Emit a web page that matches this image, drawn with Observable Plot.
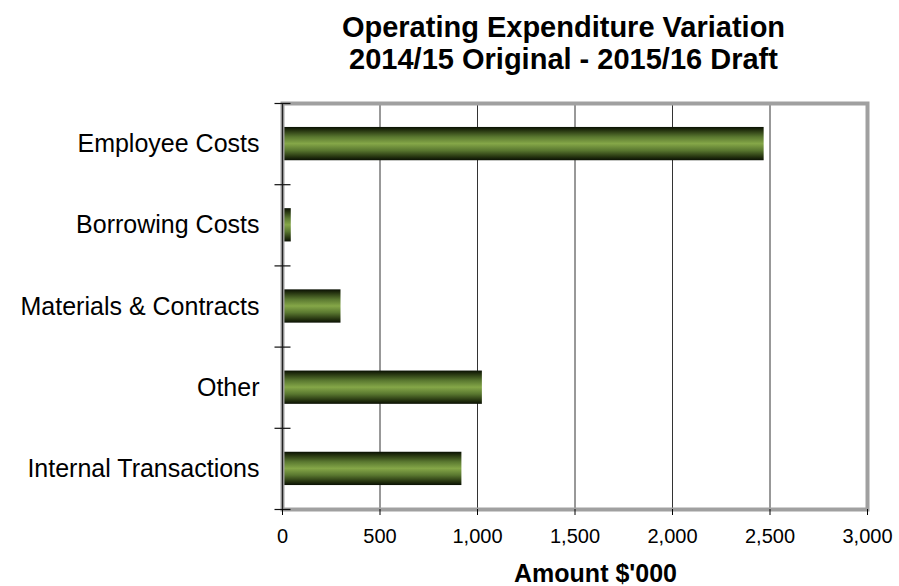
<!DOCTYPE html>
<html>
<head>
<meta charset="utf-8">
<script src="https://cdn.jsdelivr.net/npm/d3@7"></script>
<script src="https://cdn.jsdelivr.net/npm/@observablehq/plot@0.6"></script>
<style>
  html, body { margin: 0; padding: 0; background: #fff; }
  #chart svg { display: block; }
</style>
</head>
<body>
<div id="chart"></div>
<script>
// Operating expenditure variation by cost category ($'000)
const categories = [
  "Employee Costs",
  "Borrowing Costs",
  "Materials & Contracts",
  "Other",
  "Internal Transactions"
];
const amounts = [2470, 45, 300, 1025, 920];
const xTicks = [0, 500, 1000, 1500, 2000, 2500, 3000];
const gridValues = [500, 1000, 1500, 2000, 2500];
const titleLines = ["Operating Expenditure Variation", "2014/15 Original - 2015/16 Draft"];
const xLabel = "Amount $'000";

const rows = categories.map((category, i) => ({category, amount: amounts[i]}));

const W = 899, H = 586;
const margin = {top: 103, right: 32, bottom: 77, left: 282};
const step = (H - margin.top - margin.bottom) / categories.length;

// short horizontal stroke used for the category boundary ticks
const crossTick = {
  draw(context) {
    context.moveTo(-8, 0);
    context.lineTo(8, 0);
  }
};

const font = "'Liberation Sans', Arial, Helvetica, sans-serif";

const chart = Plot.plot({
  width: W,
  height: H,
  marginTop: margin.top,
  marginRight: margin.right,
  marginBottom: margin.bottom,
  marginLeft: margin.left,
  style: {fontFamily: font, color: "#000", background: "#fff"},
  x: {domain: [0, 3000]},
  y: {domain: categories, paddingInner: 0.59, paddingOuter: 0.295, round: false},
  marks: [
    Plot.ruleX(gridValues, {stroke: "#333", strokeWidth: 1}),
    Plot.barX(rows, {x: "amount", y: "category", fill: "url(#barShade)"}),
    Plot.frame({stroke: "#a0a0a0", strokeWidth: 4}),
    Plot.ruleX([0], {stroke: "#222", strokeWidth: 1.2}),
    Plot.dot(categories, {x: () => 0, y: d => d, dy: -step / 2, symbol: crossTick, fill: "none", stroke: "#111", strokeWidth: 1.2}),
    Plot.dot(categories.slice(-1), {x: () => 0, y: d => d, dy: step / 2, symbol: crossTick, fill: "none", stroke: "#111", strokeWidth: 1.2}),
    Plot.axisX({ticks: xTicks, tickFormat: d3.format(","), tickSize: 6, tickPadding: 13, fontSize: 20, label: null, stroke: "#000"}),
    Plot.axisY({tickSize: 0, tickPadding: 23, fontSize: 25, label: null}),
    Plot.text([titleLines[0]], {frameAnchor: "top", lineAnchor: "middle", dx: -11.5, dy: -76, fontSize: 29, fontWeight: "bold", fill: "#000"}),
    Plot.text([titleLines[1]], {frameAnchor: "top", lineAnchor: "middle", dx: -11.5, dy: -44, fontSize: 29, fontWeight: "bold", fill: "#000"}),
    Plot.text([xLabel], {frameAnchor: "bottom", lineAnchor: "middle", dx: 20.5, dy: 64, fontSize: 25, fontWeight: "bold", fill: "#000"})
  ]
});

// vertical shading for the bars: dark edges, light green centre
const defs = d3.select(chart).insert("defs", ":first-child");
const grad = defs.append("linearGradient")
  .attr("id", "barShade")
  .attr("x1", 0).attr("y1", 0).attr("x2", 0).attr("y2", 1);
[
  [0, "#0a1003"],
  [0.1, "#24320f"],
  [0.3, "#5a7830"],
  [0.5, "#85a748"],
  [0.7, "#5a7830"],
  [0.9, "#24320f"],
  [1, "#0a1003"]
].forEach(([o, c]) => grad.append("stop").attr("offset", o).attr("stop-color", c));

document.getElementById("chart").appendChild(chart);
</script>
</body>
</html>
